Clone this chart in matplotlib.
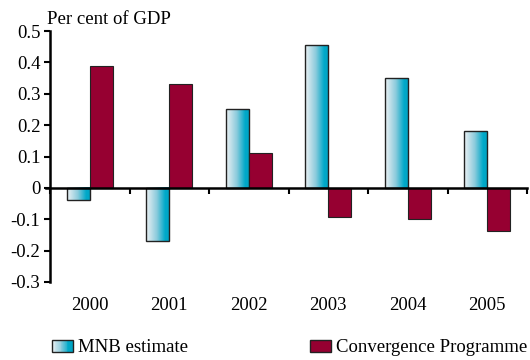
import numpy as np
import matplotlib
matplotlib.use("Agg")
import matplotlib.pyplot as plt
from matplotlib.colors import LinearSegmentedColormap
from matplotlib.patches import Rectangle
from matplotlib.legend_handler import HandlerBase

years = ["2000", "2001", "2002", "2003", "2004", "2005"]
mnb_estimate = [-0.04, -0.17, 0.25, 0.455, 0.35, 0.18]
convergence = [0.39, 0.33, 0.11, -0.093, -0.10, -0.136]
yticks = [-0.3, -0.2, -0.1, 0, 0.1, 0.2, 0.3, 0.4, 0.5]
ytick_labels = ["-0.3", "-0.2", "-0.1", "0", "0.1", "0.2", "0.3", "0.4", "0.5"]

plt.rcParams["font.family"] = ["Liberation Serif", "DejaVu Serif"]
plt.rcParams["font.size"] = 13.5

red = "#960031"
edge = "#222222"
cyan_grad = LinearSegmentedColormap.from_list(
    "mnb", [(0, "#eef2f5"), (0.45, "#8ccbdc"), (0.8, "#00a9c9"), (1, "#00a2c2")])


class GradientHandler(HandlerBase):
    def create_artists(self, legend, orig_handle, xdescent, ydescent,
                       width, height, fontsize, trans):
        n = 24
        arts = []
        for k in range(n):
            arts.append(Rectangle((-xdescent + width * k / n, -ydescent), width / n, height,
                                  facecolor=cyan_grad((k + 0.5) / n), edgecolor="none",
                                  transform=trans))
        arts.append(Rectangle((-xdescent, -ydescent), width, height, facecolor="none",
                              edgecolor=edge, lw=1, transform=trans))
        return arts


fig = plt.figure(figsize=(5.3, 3.6), dpi=100)
ax = fig.add_axes([50 / 530, 1 - 282 / 360, 477 / 530, 251 / 360])

x = np.arange(len(years)) + 0.5
w = 0.29
bars_mnb = ax.bar(x - w / 2, mnb_estimate, w, facecolor="none", edgecolor=edge, lw=1, zorder=3)
bars_conv = ax.bar(x + w / 2, convergence, w, facecolor=red, edgecolor=edge, lw=0.8, zorder=3)

# gradient fill inside each MNB bar
grad = np.linspace(0, 1, 256).reshape(1, -1)
for b in bars_mnb:
    x0, y0 = b.get_x(), b.get_y()
    x1, y1 = x0 + b.get_width(), y0 + b.get_height()
    ax.imshow(grad, extent=[x0, x1, min(y0, y1), max(y0, y1)], cmap=cyan_grad,
              aspect="auto", zorder=2, interpolation="bilinear")

ax.set_xlim(0, len(years))
ax.set_ylim(-0.3, 0.5)

for s in ["top", "right"]:
    ax.spines[s].set_visible(False)
ax.spines["bottom"].set_position(("data", 0))
ax.spines["left"].set_linewidth(1.8)
ax.spines["bottom"].set_linewidth(1.8)
ax.spines["left"].set_zorder(5)
ax.spines["bottom"].set_zorder(5)
ax.spines["bottom"].set_bounds(-0.05, len(years))

ax.set_yticks(yticks)
ax.set_yticklabels(ytick_labels)
ax.tick_params(axis="y", direction="out", length=4, width=1.5, pad=3)
ax.set_xticks(np.arange(len(years) + 1))
ax.set_xticklabels([])
ax.tick_params(axis="x", direction="out", length=4, width=1.5)

for xi, yr in zip(x, years):
    ax.text(xi, -24 / 251, yr, transform=ax.get_xaxis_transform(),
            ha="center", va="center")

fig.text(47 / 530, 1 - 20 / 360, "Per cent of GDP", ha="left", va="center")

h_mnb = Rectangle((0, 0), 1, 1)
h_conv = Rectangle((0, 0), 1, 1, facecolor=red, edgecolor=edge, lw=1)
leg_kw = dict(frameon=False, handlelength=1.1, handleheight=0.6,
              handletextpad=0.3, borderaxespad=0, borderpad=0, loc="center left")
fig.legend([h_mnb], ["MNB estimate"], bbox_to_anchor=(52 / 530, 1 - 348 / 360),
           handler_map={Rectangle: GradientHandler()}, **leg_kw)
fig.legend([h_conv], ["Convergence Programme"], bbox_to_anchor=(310 / 530, 1 - 348 / 360),
           **leg_kw)

fig.savefig("out.png", dpi=100)
